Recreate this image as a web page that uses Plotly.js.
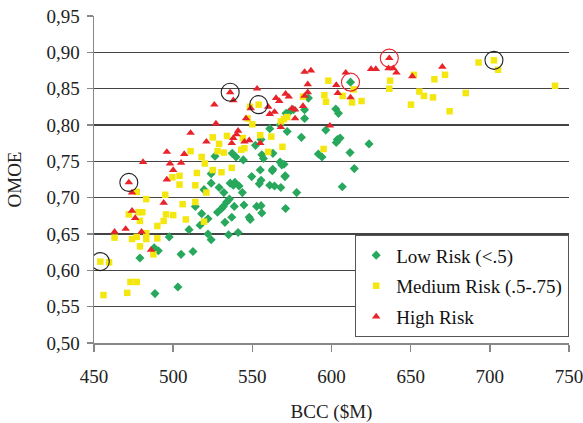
<!DOCTYPE html>
<html>
<head>
<meta charset="utf-8">
<script src="https://cdn.plot.ly/plotly-3.0.1.min.js"></script>
<style>html,body{margin:0;padding:0;background:#fff;}#chart{width:583px;height:423px;}</style>
</head>
<body>
<div id="chart"></div>
<script>
// Low Risk (<.5)
const lowX = [524,524,519.5,514,518,522,517,510,522,524,497.5,488,490.6,479,505,512.5,503,488.5,
  549.6,555,562.6,570.6,529,532,536,538,539,541.6,543.7,555.5,554.4,561,564,568,578,535.5,533.8,531.7,530.6,528,538.6,544.7,552.7,555.5,556,548,548.7,571,537,532.7,535,541,
  585.4,583,583,576,573.4,571.3,561,567.5,572,581,552,526.4,537.3,539.7,544.3,556,557,563,567.5,568.6,570,591.7,555.5,
  612,602.7,604.4,596.4,603.7,605.4,603,623.7,611.7,594,614.4,606.8,562.9,570.8];
const lowY = [0.733,0.720,0.711,0.688,0.678,0.671,0.662,0.656,0.650,0.642,0.646,0.631,0.627,0.617,0.622,0.626,0.577,0.568,
  0.729,0.738,0.737,0.729,0.714,0.707,0.720,0.717,0.721,0.716,0.707,0.724,0.719,0.717,0.716,0.714,0.707,0.698,0.694,0.688,0.685,0.680,0.688,0.690,0.688,0.689,0.679,0.673,0.670,0.685,0.673,0.666,0.649,0.652,
  0.837,0.821,0.809,0.821,0.818,0.816,0.795,0.800,0.791,0.783,0.772,0.757,0.761,0.756,0.752,0.759,0.754,0.761,0.749,0.745,0.746,0.760,0.780,
  0.859,0.822,0.816,0.793,0.780,0.782,0.776,0.774,0.762,0.756,0.740,0.715,0.739,0.730];

// Medium Risk (.5-.75)
const medX = [511,518,520,515,504,499.5,504,514,521,477,495,483,506,514,472,478,480.5,479,495.5,500,494,508,519.5,490,463,474,477,483,483,490,479,487.5,454,459.5,473,477,471,456,
  554,548.5,547,550,525,534,529,528,532,544,543,545,555,562,569,560,570,572,582,525,530.5,537,568,
  598,595.5,596.5,607,614,613,619,637,636.5,652,655.5,658.4,650.2,595,692.9,702.6,705.2,741.2,684.8,674.6,665,671.7,664.1];
const medY = [0.764,0.756,0.747,0.734,0.730,0.728,0.718,0.717,0.707,0.708,0.704,0.698,0.691,0.694,0.677,0.680,0.680,0.668,0.677,0.676,0.668,0.670,0.667,0.661,0.645,0.643,0.646,0.651,0.643,0.644,0.633,0.622,0.612,0.611,0.584,0.584,0.569,0.566,
  0.828,0.825,0.809,0.801,0.783,0.785,0.774,0.764,0.762,0.782,0.766,0.768,0.786,0.784,0.770,0.763,0.808,0.811,0.839,0.738,0.735,0.741,0.805,
  0.861,0.841,0.832,0.840,0.849,0.831,0.833,0.861,0.850,0.869,0.846,0.840,0.828,0.767,0.886,0.889,0.876,0.854,0.844,0.819,0.863,0.869,0.838];

// High Risk
const highX = [481,496,507,498,505,500,496,472,474,494,474,476,463,470,480,486,511,526,527,521,536,538,553,549,560,561,564,565,567,571,573,575,577,577,568,583,587,585,585,583,582,546,541,540,538,548,545,537,555,599,603,604,612,609,625,628,636.5,636,639,641,651,670];
const highY = [0.749,0.763,0.760,0.747,0.748,0.738,0.725,0.721,0.707,0.693,0.682,0.672,0.653,0.657,0.653,0.628,0.789,0.828,0.802,0.777,0.845,0.834,0.850,0.823,0.825,0.815,0.818,0.837,0.833,0.843,0.839,0.823,0.821,0.809,0.797,0.873,0.875,0.856,0.845,0.840,0.826,0.809,0.792,0.787,0.782,0.779,0.777,0.775,0.775,0.799,0.855,0.844,0.838,0.872,0.877,0.877,0.892,0.878,0.878,0.872,0.867,0.880];

// Highlighted points (circled)
const circBlackX = [454,472,536,554,702.6];
const circBlackY = [0.612,0.721,0.845,0.828,0.889];
const circRedX = [612,636.5];
const circRedY = [0.859,0.892];

const serif = "Liberation Serif, Times New Roman, serif";

const traces = [
  {x: lowX, y: lowY, type: 'scatter', mode: 'markers', name: 'Low Risk (<.5)', legendgroup: 'a',
   marker: {symbol: 'diamond', size: 7, color: '#27A85C'}},
  {x: medX, y: medY, type: 'scatter', mode: 'markers', name: 'Medium Risk (.5-.75)', legendgroup: 'b',
   marker: {symbol: 'square', size: 6.5, color: '#F4E710'}},
  {x: highX, y: highY, type: 'scatter', mode: 'markers', name: 'High Risk', legendgroup: 'c',
   marker: {symbol: 'triangle-up', size: 7.5, color: '#E8232A'}},
  {x: circBlackX, y: circBlackY, type: 'scatter', mode: 'markers', showlegend: false, hoverinfo: 'skip',
   marker: {symbol: 'circle-open', size: 18, color: '#222', line: {width: 1.1, color: '#222'}}},
  {x: circRedX, y: circRedY, type: 'scatter', mode: 'markers', showlegend: false, hoverinfo: 'skip',
   marker: {symbol: 'circle-open', size: 18, color: '#E8232A', line: {width: 1.1, color: '#E8232A'}}}
];

const layout = {
  width: 583, height: 423,
  margin: {l: 94, r: 14, t: 16, b: 80, autoexpand: false},
  paper_bgcolor: '#fff', plot_bgcolor: '#fff',
  separators: ',.',
  font: {family: serif, size: 19, color: '#222'},
  showlegend: true,
  legend: {x: 1, y: 0.33, xanchor: 'right', yanchor: 'top',
    bgcolor: '#fff', bordercolor: '#555', borderwidth: 1.2,
    font: {family: serif, size: 19, color: '#111'},
    traceorder: 'grouped', tracegroupgap: 3, itemsizing: 'trace'},
  xaxis: {range: [450, 750], tickvals: [450,500,550,600,650,700,750], ticks: 'outside', ticklen: 7, tickwidth: 1.5, tickcolor: '#888',
    showgrid: false, zeroline: false, showline: true, linecolor: '#888', linewidth: 1.5,
    ticklabelstandoff: 9, ticklabeloverflow: 'allow',
    tickfont: {family: serif, size: 19, color: '#222'},
    title: {text: 'BCC ($M)', font: {family: serif, size: 19, color: '#222'}, standoff: 24}},
  yaxis: {range: [0.5, 0.95], dtick: 0.05, tick0: 0.5, tickformat: '.2f', ticks: 'outside', ticklen: 6, tickwidth: 1.5, tickcolor: '#888',
    showgrid: true, gridcolor: '#444', gridwidth: 1.2, zeroline: false, showline: true, linecolor: '#888', linewidth: 1.5,
    ticklabelstandoff: 3,
    tickfont: {family: serif, size: 19, color: '#222'},
    title: {text: 'OMOE', font: {family: serif, size: 19, color: '#222'}, standoff: 20}}
};

Plotly.newPlot('chart', traces, layout, {displayModeBar: false, staticPlot: true});
</script>
</body>
</html>
